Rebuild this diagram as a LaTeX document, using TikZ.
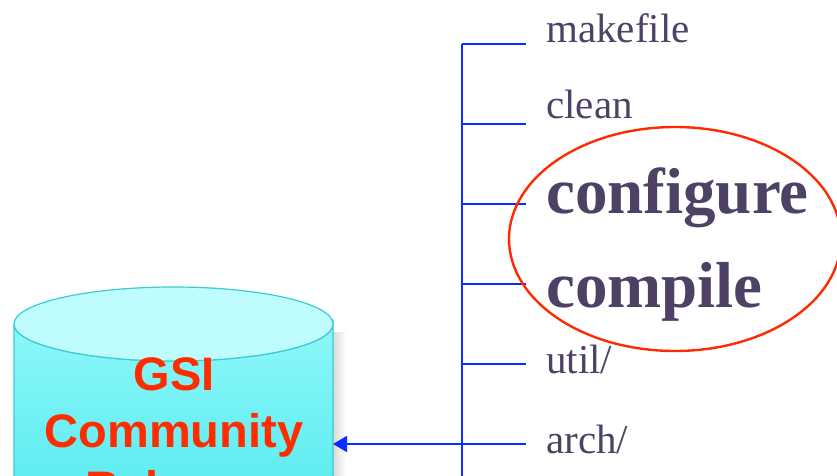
\documentclass[tikz,border=0pt]{standalone}
\usepackage{fontspec}
\setmainfont{Liberation Serif}
\setsansfont{Liberation Sans}
\definecolor{treeBlue}{HTML}{0B2CFF}
\definecolor{mPurple}{HTML}{4E4166}
\definecolor{hiRed}{HTML}{FF2A00}
\definecolor{dbEdge}{HTML}{3CCBD3}
\definecolor{dbTop}{HTML}{BFFCFD}
\definecolor{dbHigh}{HTML}{8EF7FA}
\definecolor{dbLow}{HTML}{52EAEE}
\definecolor{dbText}{HTML}{FF2C00}
\usetikzlibrary{arrows.meta, positioning}

\begin{document}
\begin{tikzpicture}[x=1pt, y=-1pt,
		branch/.style={line width=2pt, treeBlue},
		file/.style={anchor=base west, inner sep=0pt, text=mPurple, font=\fontsize{41}{41}\selectfont},
		bigfile/.style={anchor=base west, inner sep=0pt, text=mPurple, font=\fontsize{65}{65}\selectfont\bfseries},
		dbword/.style={inner sep=0pt, text=dbText, font=\sffamily\bfseries\fontsize{47}{47}\selectfont}]
		\useasboundingbox (0,0) rectangle (837,475);
		\clip (0,0) rectangle (837,475);
		%-------------------------------------------------------------------------------
		% database
		%-------------------------------------------------------------------------------
		% shadow
		\shade[left color=black!15, right color=white] (333,332) rectangle (346,520);
		% body
		\shade[top color=dbHigh, bottom color=dbLow, draw=dbEdge, line width=1.2pt]
			(14,324) -- (14,520) -- (333,520) -- (333,324) arc (0:180:159.5 and 37);
		\draw[dbEdge, line width=1.2pt, fill=dbTop] (173.5,324) ellipse (159.5 and 37);
		\coordinate (db) at (333,444);
		% labels
		\node[dbword, anchor=base] (gsi) at (174,390) {GSI};
		\node[dbword, anchor=base] (comm) at (174,447) {Community};
		\node[dbword, anchor=base] (rel) at (174,504) {Release};

		%-------------------------------------------------------------------------------
		% directory tree
		%-------------------------------------------------------------------------------
		\coordinate (top) at (462,44);
		\coordinate (bot) at (462,480);
		\draw[branch] (top) -- (bot);
		\foreach \y/\n in {44/mk, 124/cl, 204/cf, 284/cp, 364/ut, 444/ar} {
			\coordinate (t\n) at (462,\y);
			\coordinate (e\n) at (526,\y);
			\draw[branch] (t\n) -- (e\n);
		}
		% entries
		\node[file] (makefile) at (546,42) {makefile};
		\node[file] (clean) at (546,118) {clean};
		\node[bigfile] (configure) at (546,213) {configure};
		\node[bigfile] (compile) at (546,307) {compile};
		\node[file] (util) at (546,373) {util/};
		\node[file] (arch) at (546,453) {arch/};
		% highlight
		\draw[hiRed, line width=2.4pt] (675,239) ellipse (166 and 112);
		% link to the database
		\draw[branch, -{Triangle[length=14pt, width=16pt]}] (ear) -- (db);
\end{tikzpicture}
\end{document}
